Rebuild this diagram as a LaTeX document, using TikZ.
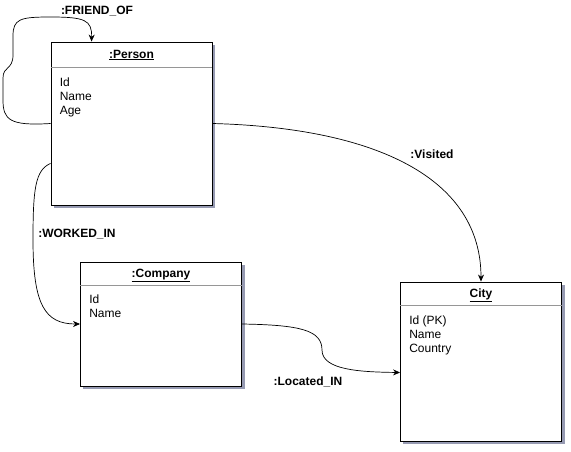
\documentclass[tikz,border=0pt]{standalone}
\usepackage{fontspec}
\setmainfont{Liberation Sans}
\usetikzlibrary{positioning,arrows.meta,calc,backgrounds}
\definecolor{cEdge}{RGB}{0,0,0}
\definecolor{cLine}{RGB}{150,150,150}
\definecolor{cShade}{RGB}{150,154,178}
\tikzset{
  entity/.style={
    rectangle, draw=cEdge, fill=white, line width=0.9pt,
    minimum width=161pt, inner sep=0pt,
  },
  etitle/.style={inner sep=0pt, font=\fontsize{12}{14}\selectfont\bfseries, anchor=north},
  fields/.style={inner sep=0pt, align=left, font=\fontsize{12}{14}\selectfont, anchor=north west},
  divider/.style={draw=cLine, line width=0.7pt},
  shade/.style={fill=cShade, draw=none},
  rel/.style={font=\fontsize{12}{14}\selectfont\bfseries, inner sep=0pt},
  arr/.style={-{Stealth[length=7pt,width=6pt]}, line width=0.7pt, draw=cEdge},
}

\begin{document}
\begin{tikzpicture}[x=1pt,y=-1pt]
\useasboundingbox (0,0) rectangle (571,452);

\node[entity, minimum height=163pt] (person) at (131.5,123.5) {};
\node[entity, minimum height=124pt] (company) at (161,324) {};
\node[entity, minimum height=159pt] (city) at (481,361.5) {};

\begin{scope}[on background layer]
\foreach \n in {person,company,city}
  \fill[shade] ($(\n.north west)+(3,3)$) rectangle ($(\n.south east)+(3,3)$);
\end{scope}

\node[etitle, below=8pt of person.north] (personT) {\underline{:Person}};
\node[etitle, below=7pt of company.north] (companyT) {\underline{:Company}};
\node[etitle, below=7pt of city.north] (cityT) {\underline{City}};

\draw[divider] ($(person.north west)+(0,26)$) -- ($(person.north east)+(0,26)$);
\draw[divider] ($(company.north west)+(0,24)$) -- ($(company.north east)+(0,24)$);
\draw[divider] ($(city.north west)+(0,24)$) -- ($(city.north east)+(0,24)$);

\node[fields, below right=36pt and 9pt of person.north west] (personF) {Id\\Name\\Age};
\node[fields, below right=33pt and 9pt of company.north west] (companyF) {Id\\Name};
\node[fields, below right=34pt and 9pt of city.north west] (cityF) {Id (PK)\\Name\\Country};

\coordinate (friendIn) at ($(person.north west)+(41,0)$);
\coordinate (workOut) at ($(person.south west)+(0,-42)$);
\coordinate (locIn) at ($(city.west)+(0,11)$);

\draw[arr] (person.west) .. controls (10,126) and (3,120) .. (3,100) -- (3,78)
  .. controls (3,66) and (13,70) .. (13,55) -- (13,36)
  .. controls (13,19) and (20,17) .. (50,17)
  .. controls (85,17) and (92,20) .. (friendIn);
\draw[arr] (workOut) .. controls (35,170) and (33,190) .. (33,240)
  .. controls (33,305) and (45,324) .. (company.west);
\draw[arr] (person.east) .. controls (380,128) and (481,180) .. (city.north);
\draw[arr] (company.east) .. controls (300,325) and (322,330) .. (322,350)
  .. controls (322,370) and (360,372) .. (locIn);

\node[rel] (friendL) at (97,11) {:FRIEND\_OF};
\node[rel] (workL) at (77,234) {:WORKED\_IN};
\node[rel] (visitL) at (432,154) {:Visited};
\node[rel] (locL) at (308,382) {:Located\_IN};

\end{tikzpicture}
\end{document}
